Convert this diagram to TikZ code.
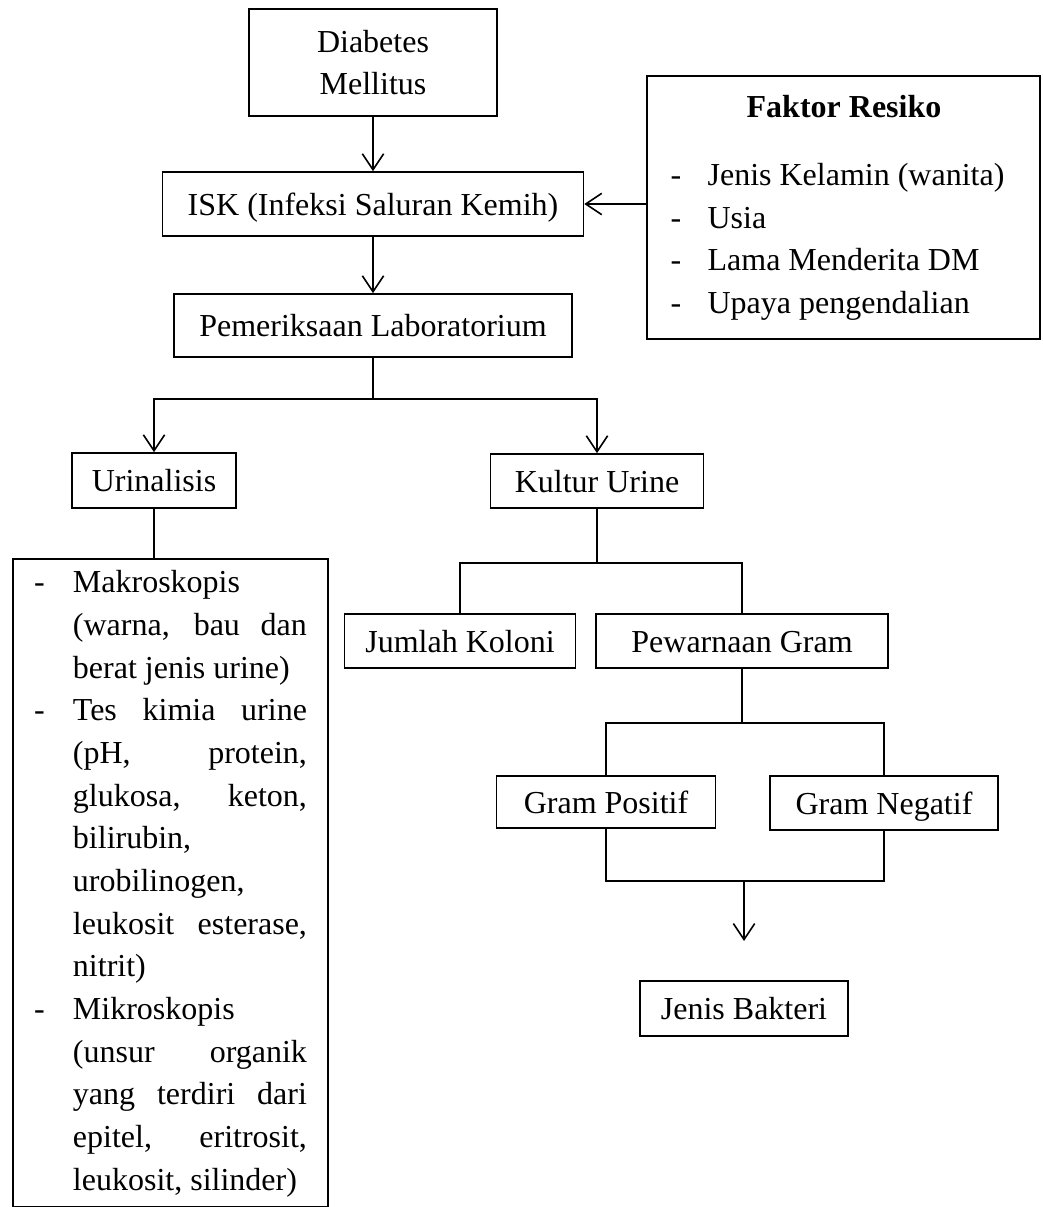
\documentclass[tikz,border=0pt]{standalone}
\usepackage{fontspec}
\setmainfont{Liberation Serif}
\usetikzlibrary{arrows.meta, positioning, calc}
\newcommand{\jline}[1]{\makebox[87.75pt][s]{#1}}
\newcommand{\dashitem}{\makebox[14.6pt][l]{-}}
\newcommand{\noitem}{\hspace*{14.6pt}}

\begin{document}
\begin{tikzpicture}[
  x=0.375pt, y=-0.375pt,
  every node/.style={font=\fontsize{12}{16}\selectfont},
  flowbox/.style={draw, line width=0.6pt, inner sep=0pt, align=center},
  labelbox/.style={flowbox, text height=9pt, text depth=0.4pt},
  arr/.style={-{Straight Barb[length=6pt, width=8pt]}, line width=0.6pt},
  conn/.style={line width=0.6pt},
]
\useasboundingbox (0,0) rectangle (1042,1207);

\node[flowbox, minimum width=93pt, minimum height=40.1pt] (dm) at (373, 62.5) {Diabetes\\Mellitus};
\node[labelbox, minimum width=157.9pt, minimum height=24pt] (isk) at (373, 204) {ISK (Infeksi Saluran Kemih)};
\node[labelbox, minimum width=149.25pt, minimum height=23.6pt] (lab) at (373, 325.5) {Pemeriksaan Laboratorium};

\node[flowbox, minimum width=147.4pt, minimum height=98.6pt] (faktor) at (843.5, 207.5) {};
\node[font=\fontsize{12}{16}\selectfont\bfseries] (ftitle) at (844, 107) {Faktor Resiko};
\node[anchor=north west, inner sep=0pt] (flist) at (670, 155) {%
  \begin{tabular}{@{}l@{}}
  \makebox[13.9pt][l]{-}Jenis Kelamin (wanita)\\
  \makebox[13.9pt][l]{-}Usia\\
  \makebox[13.9pt][l]{-}Lama Menderita DM\\
  \makebox[13.9pt][l]{-}Upaya pengendalian
  \end{tabular}};

\node[labelbox, minimum width=61.5pt, minimum height=20.6pt] (urin) at (154, 480.5) {Urinalisis};
\node[labelbox, minimum width=79.9pt, minimum height=20.25pt] (kultur) at (597, 481) {Kultur Urine};

\node[flowbox, anchor=north, inner xsep=7.9pt, inner ysep=1.5pt] (uribox) at (170.5, 558) {%
  \begin{tabular}{@{}l@{}}
  \dashitem Makroskopis\\
  \noitem\jline{(warna, bau dan}\\
  \noitem berat jenis urine)\\
  \dashitem\jline{Tes kimia urine}\\
  \noitem\jline{(pH, protein,}\\
  \noitem\jline{glukosa, keton,}\\
  \noitem bilirubin,\\
  \noitem urobilinogen,\\
  \noitem\jline{leukosit esterase,}\\
  \noitem nitrit)\\
  \dashitem Mikroskopis\\
  \noitem\jline{(unsur organik}\\
  \noitem\jline{yang terdiri dari}\\
  \noitem\jline{epitel, eritrosit,}\\
  \noitem leukosit, silinder)
  \end{tabular}};

\node[labelbox, minimum width=86.6pt, minimum height=20.25pt] (jumlah) at (460, 641) {Jumlah Koloni};
\node[labelbox, minimum width=109.5pt, minimum height=20.25pt] (pewarnaan) at (742, 641) {Pewarnaan Gram};
\node[labelbox, minimum width=82.1pt, minimum height=19.5pt] (positif) at (606, 802) {Gram Positif};
\node[labelbox, minimum width=85.5pt, minimum height=20.25pt] (negatif) at (884, 803) {Gram Negatif};
\node[labelbox, minimum width=78pt, minimum height=20.6pt] (bakteri) at (744, 1008.5) {Jenis Bakteri};

% connectors
\coordinate (labsplit) at (373, 399);
\coordinate (kulsplit) at (597, 563);
\coordinate (gramsplit) at (742, 723);
\coordinate (gramjoin) at (744, 881);
\coordinate (bakteritip) at (744, 941);

\draw[arr] (dm) -- (isk);
\draw[arr] (isk) -- (lab);
\draw[arr] (faktor.west |- isk.east) -- (isk.east);
\draw[conn] (lab) -- (labsplit);
\draw[arr] (labsplit) -| (urin.north);
\draw[arr] (labsplit) -| (kultur.north);
\draw[conn] (urin.south) -- (urin.south |- uribox.north);
\draw[conn] (kultur) -- (kulsplit);
\draw[conn] (kulsplit) -| (jumlah.north);
\draw[conn] (kulsplit) -| (pewarnaan.north);
\draw[conn] (pewarnaan) -- (gramsplit);
\draw[conn] (gramsplit) -| (positif.north);
\draw[conn] (gramsplit) -| (negatif.north);
\draw[conn] (positif.south) |- (gramjoin) -| (negatif.south);
\draw[arr] (gramjoin) -- (bakteritip);
\end{tikzpicture}
\end{document}
